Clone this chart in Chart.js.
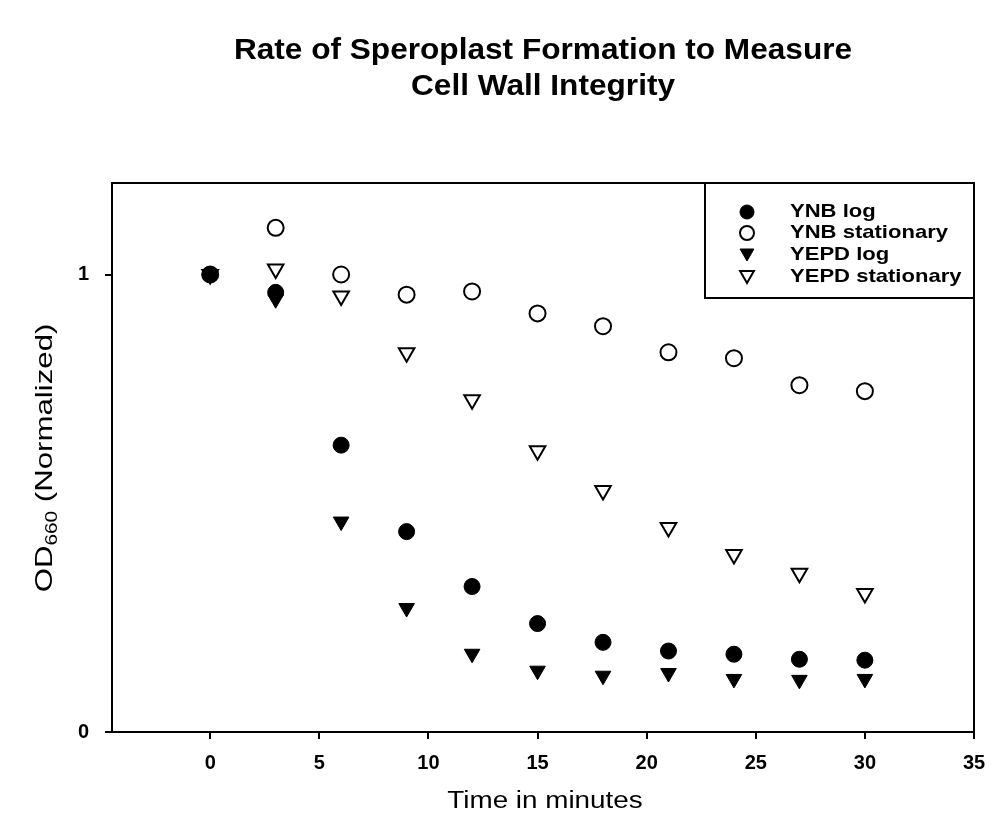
<!DOCTYPE html>
<html>
<head>
<meta charset="utf-8">
<script src="https://cdn.jsdelivr.net/npm/chart.js@4/dist/chart.umd.min.js"></script>
<style>
  html, body { margin: 0; padding: 0; background: #fff; }
  #wrap { width: 991px; height: 817px; }
</style>
</head>
<body>
<div id="wrap"><canvas id="c" width="991" height="817"></canvas></div>
<script>
// ---- data ----
const timeMinutes = [0, 3, 6, 9, 12, 15, 18, 21, 24, 27, 30];
const ynbLog        = [1.0, 0.961, 0.627, 0.438, 0.318, 0.237, 0.196, 0.177, 0.170, 0.159, 0.157];
const ynbStationary = [1.0, 1.102, 1.0, 0.956, 0.963, 0.915, 0.887, 0.830, 0.817, 0.758, 0.745];
const yepdLog       = [1.0, 0.946, 0.460, 0.271, 0.171, 0.134, 0.123, 0.129, 0.116, 0.114, 0.116];
const yepdStationary= [1.0, 1.012, 0.953, 0.829, 0.726, 0.615, 0.528, 0.447, 0.388, 0.347, 0.303];
const seriesNames = ['YNB log', 'YNB stationary', 'YEPD log', 'YEPD stationary'];
const xTicks = [0, 5, 10, 15, 20, 25, 30, 35];
const yTicks = [0, 1];
const titleLines = ['Rate of Speroplast Formation to Measure', 'Cell Wall Integrity'];
const xTitle = 'Time in minutes';
const yTitleMain = 'OD', yTitleSub = '660', yTitleRest = ' (Normalized)';

const FONT = "'Liberation Sans', Arial, sans-serif";

function pts(ys) { return timeMinutes.map((x, i) => ({ x: x, y: ys[i] })); }

const styles = [
  { pointStyle: 'circle', radius: 8, rotation: 0, fill: '#000', border: 1 },
  { pointStyle: 'circle', radius: 8, rotation: 0, fill: 'rgba(0,0,0,0)', border: 2 },
  { pointStyle: 'triangle', radius: 9, rotation: 180, fill: '#000', border: 1 },
  { pointStyle: 'triangle', radius: 9, rotation: 180, fill: 'rgba(0,0,0,0)', border: 2 }
];
const allSeries = [ynbLog, ynbStationary, yepdLog, yepdStationary];

const datasets = allSeries.map((ys, i) => ({
  label: seriesNames[i],
  data: pts(ys),
  showLine: false,
  pointStyle: styles[i].pointStyle,
  pointRadius: styles[i].radius,
  pointRotation: styles[i].rotation,
  pointBackgroundColor: styles[i].fill,
  pointBorderColor: '#000',
  pointBorderWidth: styles[i].border,
  pointHoverRadius: styles[i].radius
}));

function stretchText(ctx, text, x, y, sx) {
  ctx.save();
  ctx.translate(x, y);
  ctx.scale(sx, 1);
  ctx.fillText(text, 0, 0);
  ctx.restore();
}

const decor = {
  id: 'decor',
  afterDraw(chart) {
    const ctx = chart.ctx;
    const a = chart.chartArea;
    ctx.save();
    // frame top and right
    ctx.strokeStyle = '#000';
    ctx.lineWidth = 2;
    ctx.beginPath();
    ctx.moveTo(a.left, a.top);
    ctx.lineTo(a.right, a.top);
    ctx.lineTo(a.right, a.bottom);
    ctx.stroke();

    // title
    ctx.fillStyle = '#000';
    ctx.textAlign = 'center';
    ctx.textBaseline = 'middle';
    ctx.font = 'bold 29px ' + FONT;
    const cx = (a.left + a.right) / 2;
    stretchText(ctx, titleLines[0], cx, 51, 1.09);
    stretchText(ctx, titleLines[1], cx, 87, 1.09);

    // x title
    ctx.font = '23px ' + FONT;
    stretchText(ctx, xTitle, cx + 2, 802, 1.21);

    // y title with subscript
    ctx.save();
    ctx.translate(45, 458);
    ctx.rotate(-Math.PI / 2);
    ctx.scale(1.3, 1);
    const fMain = '24px ' + FONT, fSub = '16px ' + FONT;
    ctx.font = fMain; const w1 = ctx.measureText(yTitleMain).width;
    const w3 = ctx.measureText(yTitleRest).width;
    ctx.font = fSub; const w2 = ctx.measureText(yTitleSub).width;
    let x0 = -(w1 + w2 + w3) / 2;
    ctx.textAlign = 'left';
    ctx.font = fMain; ctx.fillText(yTitleMain, x0, 0);
    ctx.font = fSub; ctx.fillText(yTitleSub, x0 + w1, 8);
    ctx.font = fMain; ctx.fillText(yTitleRest, x0 + w1 + w2, 0);
    ctx.restore();

    // legend
    const lx = 705, ly = a.top, lr = a.right, lb = 298;
    ctx.strokeStyle = '#000';
    ctx.lineWidth = 2;
    ctx.strokeRect(lx, ly, lr - lx, lb - ly);
    const rows = [212, 233, 255, 277];
    ctx.font = 'bold 19px ' + FONT;
    ctx.textAlign = 'left';
    rows.forEach((yy, i) => {
      const st = styles[i];
      ctx.fillStyle = st.fill;
      ctx.strokeStyle = '#000';
      ctx.lineWidth = st.border;
      const r = st.pointStyle === 'circle' ? 7 : 8;
      const yOff = st.pointStyle === 'triangle' ? -2 : 0;
      Chart.helpers.drawPoint(ctx, { pointStyle: st.pointStyle, radius: r, rotation: st.rotation, borderWidth: st.border }, 747, yy + yOff);
      ctx.fillStyle = '#000';
      stretchText(ctx, seriesNames[i], 790, yy, 1.16);
    });
    ctx.restore();
  }
};

new Chart(document.getElementById('c'), {
  type: 'scatter',
  data: { datasets: datasets },
  options: {
    responsive: false,
    animation: false,
    layout: { padding: { top: 183, right: 17, bottom: 0, left: 0 } },
    plugins: { legend: { display: false }, tooltip: { enabled: false }, title: { display: false } },
    scales: {
      x: {
        type: 'linear', min: -4.5, max: 35,
        afterBuildTicks(s) { s.ticks = xTicks.map(v => ({ value: v })); },
        afterFit(s) { s.height = 85; s.paddingLeft = 0; s.paddingRight = 0; },
        border: { display: true, color: '#000', width: 2 },
        grid: { drawOnChartArea: false, drawTicks: true, tickLength: 7, color: '#000', lineWidth: 2 },
        ticks: { color: '#000', font: { family: FONT, size: 20, weight: 'bold' }, padding: 12, maxRotation: 0 }
      },
      y: {
        type: 'linear', min: 0, max: 1.2,
        afterBuildTicks(s) { s.ticks = yTicks.map(v => ({ value: v })); },
        afterFit(s) { s.width = 112; s.paddingTop = 0; s.paddingBottom = 0; },
        border: { display: true, color: '#000', width: 2 },
        grid: { drawOnChartArea: false, drawTicks: true, tickLength: 7, color: '#000', lineWidth: 2 },
        ticks: { color: '#000', font: { family: FONT, size: 20, weight: 'bold' }, padding: 16 }
      }
    }
  },
  plugins: [decor]
});
</script>
</body>
</html>
